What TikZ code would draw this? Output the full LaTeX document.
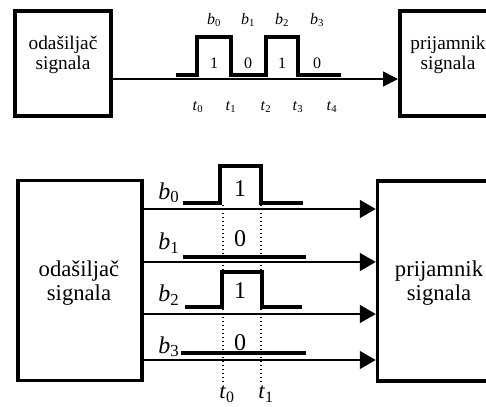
\documentclass[tikz,border=0pt]{standalone}
\usepackage{fontspec}
\setmainfont{Liberation Serif}
\usepackage{tikz}
\usetikzlibrary{arrows.meta}
\newcommand\ozn[2]{\textit{#1}\textsubscript{#2}}

\begin{document}
\begin{tikzpicture}[x=0.75pt,y=-0.75pt,
  blok/.style={draw,line width=3pt,minimum width=72pt,minimum height=78.75pt},
  blokv/.style={draw,line width=2.6pt,minimum width=93pt,minimum height=150pt},
  natpis/.style={align=center,inner sep=0pt,font=\fontsize{14.5}{15.5}\selectfont},
  natpisv/.style={align=center,inner sep=0pt,font=\fontsize{17}{18}\selectfont},
  oznm/.style={inner sep=0pt,font=\fontsize{12}{14}\selectfont},
  oznv/.style={inner sep=0pt,font=\fontsize{18}{20}\selectfont},
  veza/.style={line width=1.2pt,-{Triangle[length=11.25pt,width=11.25pt]}},
  vezav/.style={line width=1.2pt,-{Triangle[length=12pt,width=13.5pt]}},
  impuls/.style={line width=2.4pt},
  impulsv/.style={line width=3pt},
  vrijeme/.style={dotted,line width=1pt}]
\useasboundingbox (0,0) rectangle (486,407);

% serijski prijenos
\node[blok] (pred) at (63,63.5) {};
\node[blok] (prij) at (448,63.5) {};
\node[natpis] (predT) at (63,55) {odašiljač\\signala};
\node[natpis] (prijT) at (448,55) {prijamnik\\signala};
\coordinate (linija) at (0,79);
\draw[veza] (pred.east |- linija) -- (prij.west |- linija);
\draw[impuls] (176,75) -- (197,75) -- (197,37) -- (231,37) -- (231,75) -- (266,75)
  -- (266,37) -- (298,37) -- (298,75) -- (341,75);
\foreach \x/\v [count=\i from 0] in {214/1,248/0,282/1,317/0}{
  \node[oznm] (b\i) at (\x,20) {\ozn{b}{\i}};
  \node[oznm] (v\i) at (\x,63) {\v};
}
\foreach \x [count=\i from 0] in {198,231,266,298,332}
  \node[oznm] (t\i) at (\x,107) {\ozn{t}{\i}};

% paralelni prijenos
\node[blokv] (predv) at (80,280.5) {};
\node[blokv] (prijv) at (439.5,281) {};
\node[natpisv] (predvT) at (79,283) {odašiljač\\signala};
\node[natpisv] (prijvT) at (439,283) {prijamnik\\signala};
\foreach \y [count=\i from 0] in {209,262,314,360}{
  \coordinate (k\i) at (0,\y);
  \draw[vezav] (predv.east |- k\i) -- (prijv.west |- k\i);
}
\draw[impulsv] (183,203) -- (220,203) -- (220,166) -- (261,166) -- (261,203) -- (303,203);
\draw[impulsv] (183,257) -- (306,257);
\draw[impulsv] (185,307) -- (222,307) -- (222,272) -- (262,272) -- (262,307) -- (302,307);
\draw[impulsv] (181,353) -- (306,353);
\foreach \y/\v [count=\i from 0] in {193/1,243/0,295/1,347/0}{
  \node[oznv] (bv\i) at (169,\y) {\ozn{b}{\i}};
  \node[oznv] (vv\i) at (240,\y-4) {\v};
}
\draw[vrijeme] (223,205) -- (223,382);
\draw[vrijeme] (261,205) -- (261,382);
\node[oznv,font=\fontsize{17}{19}\selectfont] (tv0) at (227,394) {\ozn{t}{0}};
\node[oznv,font=\fontsize{17}{19}\selectfont] (tv1) at (266,394) {\ozn{t}{1}};
\end{tikzpicture}
\end{document}
